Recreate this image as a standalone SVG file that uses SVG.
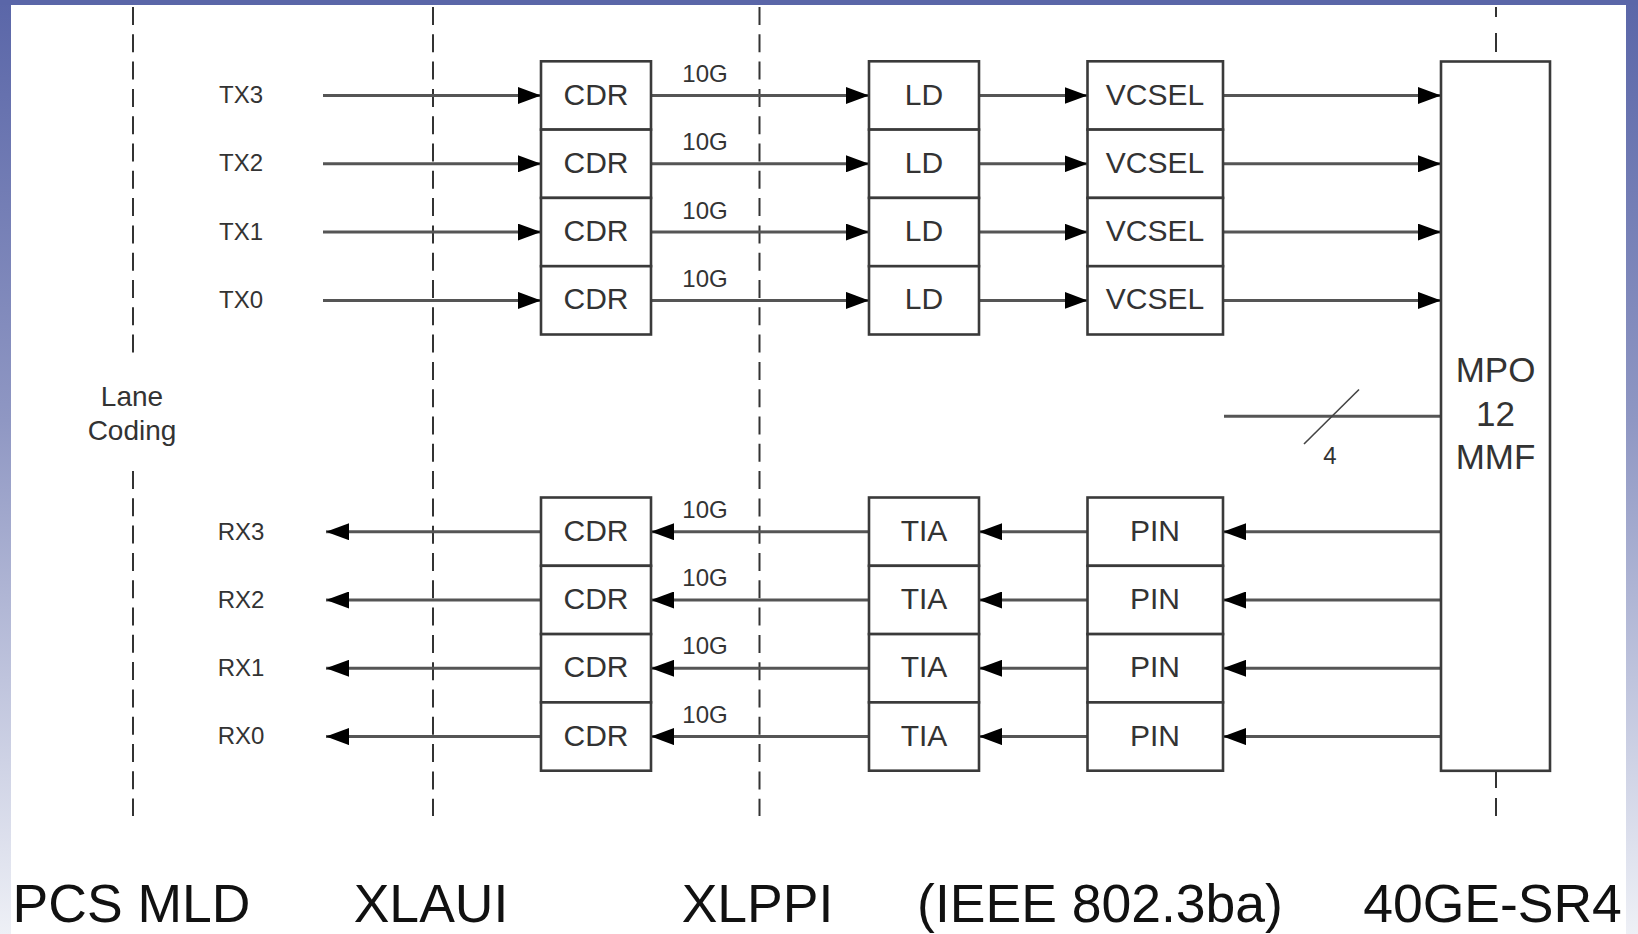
<svg xmlns="http://www.w3.org/2000/svg" width="1638" height="934" viewBox="0 0 1638 934">
<defs>
<linearGradient id="bg" x1="0" y1="0" x2="0" y2="1">
<stop offset="0" stop-color="#5a66a8"/>
<stop offset="0.45" stop-color="#8f97c3"/>
<stop offset="1" stop-color="#eef0f6"/>
</linearGradient>
<marker id="ah" markerUnits="userSpaceOnUse" markerWidth="23" markerHeight="17" refX="23" refY="8.5" orient="auto" viewBox="0 0 23 17">
<path d="M0,0 L23,8.5 L0,17 z" fill="#000"/>
</marker>
</defs>
<style>
.box{fill:#fff;stroke:#3a3a3a;stroke-width:2.6}
.bt{font-family:"Liberation Sans",Arial,sans-serif;font-size:30px;fill:#333;text-anchor:middle}
.lb{font-family:"Liberation Sans",Arial,sans-serif;font-size:24px;fill:#333;text-anchor:middle}
.big{font-family:"Liberation Sans",Arial,sans-serif;font-size:53.5px;fill:#111;text-anchor:middle}
.dash{stroke:#333;stroke-width:2;stroke-dasharray:18 9.3;fill:none}
.solid{stroke:#333;stroke-width:2;fill:none}
.cn{stroke:#555;stroke-width:3;fill:none}
.ar{marker-end:url(#ah)}
</style>
<rect x="0" y="0" width="1638" height="934" fill="url(#bg)"/>
<rect x="0" y="0" width="1638" height="5" fill="#5a66a8"/>
<rect x="11" y="5" width="1615" height="929" fill="#fff"/>

<g id="dividers">
<line class="dash" x1="133" y1="7" x2="133" y2="353"/>
<line class="dash" x1="133" y1="471" x2="133" y2="816"/>
<line class="dash" x1="433" y1="7" x2="433" y2="816"/>
<line class="dash" x1="759.5" y1="7" x2="759.5" y2="816"/>
<path class="solid" d="M1496,7 V17 M1496,33 V52 M1496,772 V788 M1496,798 V816"/>
</g>

<g id="lane-coding">
<text class="bt" x="132" y="406" style="font-size:28px">Lane</text>
<text class="bt" x="132" y="440" style="font-size:28px">Coding</text>
</g>

<g id="connectors">
<line class="cn ar" x1="323" y1="95.5" x2="541" y2="95.5"/>
<line class="cn ar" x1="323" y1="163.8" x2="541" y2="163.8"/>
<line class="cn ar" x1="323" y1="232.1" x2="541" y2="232.1"/>
<line class="cn ar" x1="323" y1="300.4" x2="541" y2="300.4"/>
<line class="cn ar" x1="651" y1="95.5" x2="869" y2="95.5"/>
<line class="cn ar" x1="651" y1="163.8" x2="869" y2="163.8"/>
<line class="cn ar" x1="651" y1="232.1" x2="869" y2="232.1"/>
<line class="cn ar" x1="651" y1="300.4" x2="869" y2="300.4"/>
<line class="cn ar" x1="979" y1="95.5" x2="1087.5" y2="95.5"/>
<line class="cn ar" x1="979" y1="163.8" x2="1087.5" y2="163.8"/>
<line class="cn ar" x1="979" y1="232.1" x2="1087.5" y2="232.1"/>
<line class="cn ar" x1="979" y1="300.4" x2="1087.5" y2="300.4"/>
<line class="cn ar" x1="1223" y1="95.5" x2="1441" y2="95.5"/>
<line class="cn ar" x1="1223" y1="163.8" x2="1441" y2="163.8"/>
<line class="cn ar" x1="1223" y1="232.1" x2="1441" y2="232.1"/>
<line class="cn ar" x1="1223" y1="300.4" x2="1441" y2="300.4"/>

<line class="cn ar" x1="1441" y1="531.7" x2="1223" y2="531.7"/>
<line class="cn ar" x1="1441" y1="600" x2="1223" y2="600"/>
<line class="cn ar" x1="1441" y1="668.3" x2="1223" y2="668.3"/>
<line class="cn ar" x1="1441" y1="736.6" x2="1223" y2="736.6"/>
<line class="cn ar" x1="1087.5" y1="531.7" x2="979" y2="531.7"/>
<line class="cn ar" x1="1087.5" y1="600" x2="979" y2="600"/>
<line class="cn ar" x1="1087.5" y1="668.3" x2="979" y2="668.3"/>
<line class="cn ar" x1="1087.5" y1="736.6" x2="979" y2="736.6"/>
<line class="cn ar" x1="869" y1="531.7" x2="651" y2="531.7"/>
<line class="cn ar" x1="869" y1="600" x2="651" y2="600"/>
<line class="cn ar" x1="869" y1="668.3" x2="651" y2="668.3"/>
<line class="cn ar" x1="869" y1="736.6" x2="651" y2="736.6"/>
<line class="cn ar" x1="541" y1="531.7" x2="326" y2="531.7"/>
<line class="cn ar" x1="541" y1="600" x2="326" y2="600"/>
<line class="cn ar" x1="541" y1="668.3" x2="326" y2="668.3"/>
<line class="cn ar" x1="541" y1="736.6" x2="326" y2="736.6"/>

<line class="cn" x1="1224" y1="416.3" x2="1441" y2="416.3"/>
<line stroke="#444" stroke-width="1.6" x1="1304" y1="444" x2="1359" y2="389.5"/>
<text class="lb" x="1330" y="464">4</text>

<text class="lb" x="705" y="82">10G</text>
<text class="lb" x="705" y="150.3">10G</text>
<text class="lb" x="705" y="218.6">10G</text>
<text class="lb" x="705" y="286.9">10G</text>
<text class="lb" x="705" y="517.7">10G</text>
<text class="lb" x="705" y="586">10G</text>
<text class="lb" x="705" y="654.3">10G</text>
<text class="lb" x="705" y="722.6">10G</text>
</g>

<g id="tx-labels">
<text class="lb" x="241" y="103">TX3</text>
<text class="lb" x="241" y="171.3">TX2</text>
<text class="lb" x="241" y="239.6">TX1</text>
<text class="lb" x="241" y="307.9">TX0</text>
</g>
<g id="rx-labels">
<text class="lb" x="241" y="539.5">RX3</text>
<text class="lb" x="241" y="607.8">RX2</text>
<text class="lb" x="241" y="676.1">RX1</text>
<text class="lb" x="241" y="744.4">RX0</text>
</g>

<g id="tx-cdr3"><rect class="box" x="541" y="61.3" width="110" height="68.3"/><text class="bt" x="596" y="104.5">CDR</text></g>
<g id="tx-cdr2"><rect class="box" x="541" y="129.6" width="110" height="68.3"/><text class="bt" x="596" y="172.8">CDR</text></g>
<g id="tx-cdr1"><rect class="box" x="541" y="197.9" width="110" height="68.3"/><text class="bt" x="596" y="241.1">CDR</text></g>
<g id="tx-cdr0"><rect class="box" x="541" y="266.2" width="110" height="68.3"/><text class="bt" x="596" y="309.4">CDR</text></g>

<g id="ld3"><rect class="box" x="869" y="61.3" width="110" height="68.3"/><text class="bt" x="924" y="104.5">LD</text></g>
<g id="ld2"><rect class="box" x="869" y="129.6" width="110" height="68.3"/><text class="bt" x="924" y="172.8">LD</text></g>
<g id="ld1"><rect class="box" x="869" y="197.9" width="110" height="68.3"/><text class="bt" x="924" y="241.1">LD</text></g>
<g id="ld0"><rect class="box" x="869" y="266.2" width="110" height="68.3"/><text class="bt" x="924" y="309.4">LD</text></g>

<g id="vcsel3"><rect class="box" x="1087.5" y="61.3" width="135.5" height="68.3"/><text class="bt" x="1155" y="104.5">VCSEL</text></g>
<g id="vcsel2"><rect class="box" x="1087.5" y="129.6" width="135.5" height="68.3"/><text class="bt" x="1155" y="172.8">VCSEL</text></g>
<g id="vcsel1"><rect class="box" x="1087.5" y="197.9" width="135.5" height="68.3"/><text class="bt" x="1155" y="241.1">VCSEL</text></g>
<g id="vcsel0"><rect class="box" x="1087.5" y="266.2" width="135.5" height="68.3"/><text class="bt" x="1155" y="309.4">VCSEL</text></g>

<g id="mpo"><rect class="box" x="1441" y="61.5" width="109" height="709.3"/>
<text class="bt" x="1495.5" y="382" style="font-size:35px">MPO</text>
<text class="bt" x="1495.5" y="425.5" style="font-size:35px">12</text>
<text class="bt" x="1495.5" y="469" style="font-size:35px">MMF</text></g>

<g id="rx-cdr3"><rect class="box" x="541" y="497.5" width="110" height="68.3"/><text class="bt" x="596" y="540.7">CDR</text></g>
<g id="rx-cdr2"><rect class="box" x="541" y="565.8" width="110" height="68.3"/><text class="bt" x="596" y="609">CDR</text></g>
<g id="rx-cdr1"><rect class="box" x="541" y="634.1" width="110" height="68.3"/><text class="bt" x="596" y="677.3">CDR</text></g>
<g id="rx-cdr0"><rect class="box" x="541" y="702.4" width="110" height="68.3"/><text class="bt" x="596" y="745.6">CDR</text></g>

<g id="tia3"><rect class="box" x="869" y="497.5" width="110" height="68.3"/><text class="bt" x="924" y="540.7">TIA</text></g>
<g id="tia2"><rect class="box" x="869" y="565.8" width="110" height="68.3"/><text class="bt" x="924" y="609">TIA</text></g>
<g id="tia1"><rect class="box" x="869" y="634.1" width="110" height="68.3"/><text class="bt" x="924" y="677.3">TIA</text></g>
<g id="tia0"><rect class="box" x="869" y="702.4" width="110" height="68.3"/><text class="bt" x="924" y="745.6">TIA</text></g>

<g id="pin3"><rect class="box" x="1087.5" y="497.5" width="135.5" height="68.3"/><text class="bt" x="1155" y="540.7">PIN</text></g>
<g id="pin2"><rect class="box" x="1087.5" y="565.8" width="135.5" height="68.3"/><text class="bt" x="1155" y="609">PIN</text></g>
<g id="pin1"><rect class="box" x="1087.5" y="634.1" width="135.5" height="68.3"/><text class="bt" x="1155" y="677.3">PIN</text></g>
<g id="pin0"><rect class="box" x="1087.5" y="702.4" width="135.5" height="68.3"/><text class="bt" x="1155" y="745.6">PIN</text></g>

<g id="bottom-labels">
<text class="big" x="131.5" y="921.7">PCS MLD</text>
<text class="big" x="431" y="921.7">XLAUI</text>
<text class="big" x="757.5" y="921.7">XLPPI</text>
<text class="big" x="1100" y="921.7">(IEEE 802.3ba)</text>
<text class="big" x="1492.5" y="921.7">40GE-SR4</text>
</g>
</svg>
